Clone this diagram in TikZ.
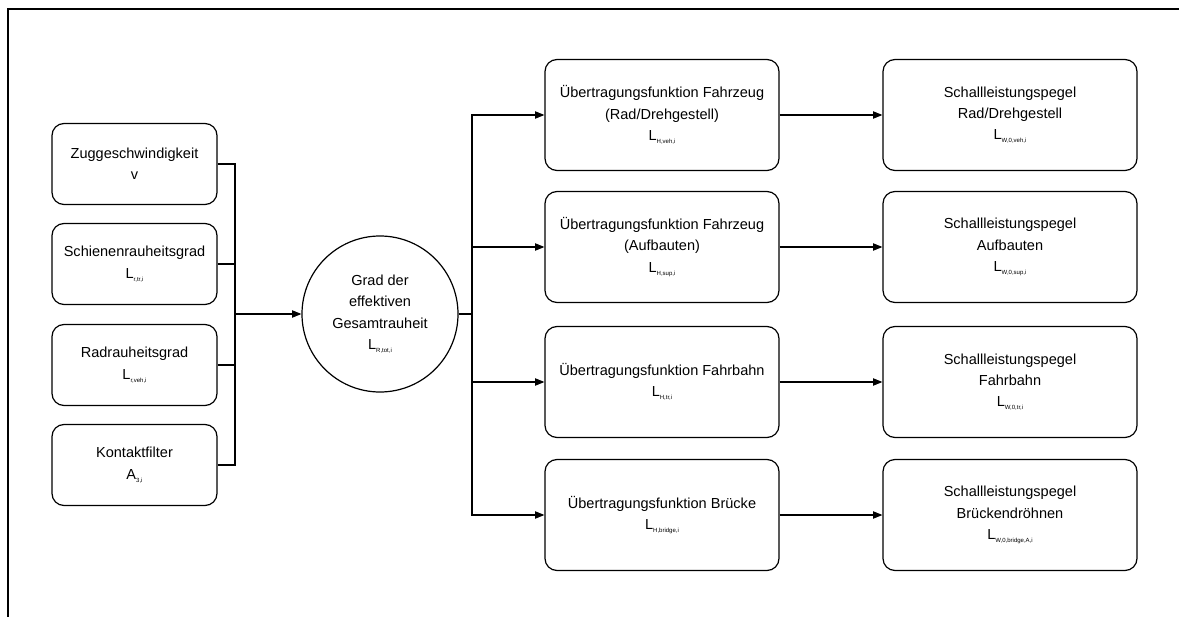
\documentclass[tikz,border=0pt]{standalone}
\usepackage{fontspec}
\setmainfont{Liberation Sans}
\usetikzlibrary{arrows.meta,positioning}

% small index after a symbol
\newcommand{\subidx}[1]{\raisebox{-0.4ex}{\fontsize{4.5}{5}\selectfont #1}}

\begin{document}
\begin{tikzpicture}[x=0.75pt,y=-0.75pt,
    box/.style={draw, line width=0.9pt, rounded corners=9pt, align=center,
        inner sep=0pt, font=\fontsize{10.9}{16}\selectfont},
    inbox/.style={box, minimum width=123.75pt, minimum height=60.75pt},
    tfbox/.style={box, minimum width=175.5pt, minimum height=83.25pt},
    swbox/.style={box, minimum width=190.5pt, minimum height=83.25pt},
    link/.style={line width=0.8pt},
    arrow/.style={link, -{Triangle[length=7pt,width=5.5pt]}}]
        \useasboundingbox (0,0) rectangle (1179,617);

        % Frame (top and left only)
        \draw[line width=1.4pt] (1179,9) -- (8,9) -- (8,617);

        % Input boxes
        \foreach \y/\name/\txt in {164/zug/{Zuggeschwindigkeit\\v},
                                   264/schiene/{Schienenrauheitsgrad\\L\subidx{r,tr,i}},
                                   365/rad/{Radrauheitsgrad\\L\subidx{r,veh,i}},
                                   465/kontakt/{Kontaktfilter\\A\subidx{3,i}}}
        {
            \node[inbox] (\name) at (134.5,\y) {\txt};
        }

        % Total roughness
        \node[draw, circle, line width=0.9pt, minimum size=117pt, inner sep=0pt,
              align=center, font=\fontsize{10.9}{16}\selectfont]
              (gesamt) at (380,314) {Grad der\\effektiven\\Gesamtrauheit\\L\subidx{R,tot,i}};

        \coordinate (joinL) at (235,314);
        \coordinate (joinR) at (472,314);

        % Transfer functions
        \foreach \y/\name/\txt in {115/tfveh/{Übertragungsfunktion Fahrzeug\\(Rad/Drehgestell)\\L\subidx{H,veh,i}},
                                   247/tfsup/{Übertragungsfunktion Fahrzeug\\(Aufbauten)\\L\subidx{H,sup,i}},
                                   382/tftr/{Übertragungsfunktion Fahrbahn\\L\subidx{H,tr,i}},
                                   515/tfbr/{Übertragungsfunktion Brücke\\L\subidx{H,bridge,i}}}
        {
            \node[tfbox] (\name) at (662,\y) {\txt};
        }

        % Sound power levels
        \foreach \y/\name/\txt in {115/swveh/{Schallleistungspegel\\Rad/Drehgestell\\L\subidx{W,0,veh,i}},
                                   247/swsup/{Schallleistungspegel\\Aufbauten\\L\subidx{W,0,sup,i}},
                                   382/swtr/{Schallleistungspegel\\Fahrbahn\\L\subidx{W,0,tr,i}},
                                   515/swbr/{Schallleistungspegel\\Brückendröhnen\\L\subidx{W,0,bridge,A,i}}}
        {
            \node[swbox] (\name) at (1010,\y) {\txt};
        }

        % Draw connecting lines
        \foreach \name in {zug, schiene, rad, kontakt}
            \draw[link] (\name.east) -| (joinL);
        \draw[arrow] (joinL) -- (gesamt);
        \draw[link] (gesamt) -- (joinR);
        \foreach \name in {tfveh, tfsup, tftr, tfbr}
            \draw[arrow] (joinR) |- (\name.west);
        \foreach \a/\b in {tfveh/swveh, tfsup/swsup, tftr/swtr, tfbr/swbr}
            \draw[arrow] (\a) -- (\b);
\end{tikzpicture}
\end{document}
